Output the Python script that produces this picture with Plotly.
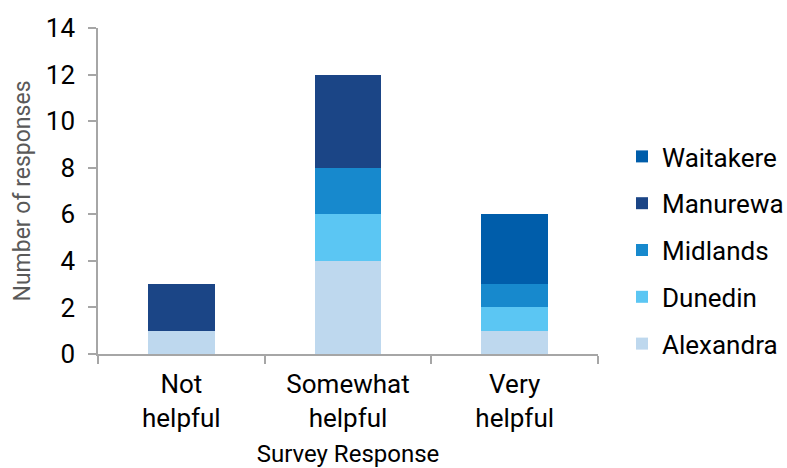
import plotly.graph_objects as go

categories = ["Not<br>helpful", "Somewhat<br>helpful", "Very<br>helpful"]
alexandra = [1, 4, 1]
dunedin = [0, 2, 1]
midlands = [0, 2, 1]
manurewa = [2, 4, 0]
waitakere = [0, 0, 3]

series = [
    ("Alexandra", alexandra, "#BED8EE"),
    ("Dunedin", dunedin, "#5BC6F3"),
    ("Midlands", midlands, "#1789CD"),
    ("Manurewa", manurewa, "#1B4586"),
    ("Waitakere", waitakere, "#005DAA"),
]

fig = go.Figure()
n = len(series)
for i, (name, vals, col) in enumerate(series):
    fig.add_trace(go.Bar(
        x=categories, y=vals, name=name, legendgroup=name,
        legendrank=n - i,
        marker=dict(color=col, line=dict(width=0)),
    ))

font_family = "Roboto"
fig.update_layout(
    barmode="stack",
    bargap=0.6,
    width=787, height=468,
    margin=dict(l=98, r=189, t=28, b=114, autoexpand=False),
    paper_bgcolor="white", plot_bgcolor="white",
    font=dict(family=font_family, size=26, color="#000000"),
    showlegend=True,
    legend=dict(
        traceorder="grouped", tracegroupgap=10,
        xref="container", yref="container",
        x=622 / 787, y=1 - 133 / 468, xanchor="left", yanchor="top",
        maxheight=400,
        font=dict(size=26, color="#000000"),
        bgcolor="rgba(0,0,0,0)",
    ),
    xaxis=dict(
        automargin=False,
        showline=True, linecolor="#A6A6A6", linewidth=1.5,
        ticks="outside", tickson="boundaries", ticklen=8, tickcolor="#A6A6A6", tickwidth=1.5,
        ticklabelstandoff=6,
        showgrid=False,
        title=dict(text="Survey Response", font=dict(size=24, color="#000000"), standoff=22),
    ),
    yaxis=dict(
        automargin=False,
        range=[0, 14], dtick=2,
        showline=True, linecolor="#A6A6A6", linewidth=1.5,
        ticks="outside", ticklen=8, tickcolor="#A6A6A6", tickwidth=1.5,
        ticklabelstandoff=8,
        showgrid=False, zeroline=False,
        title=dict(text="Number of responses", font=dict(size=23, color="#595959"), standoff=9),
    ),
)

fig.write_html("out.html")
